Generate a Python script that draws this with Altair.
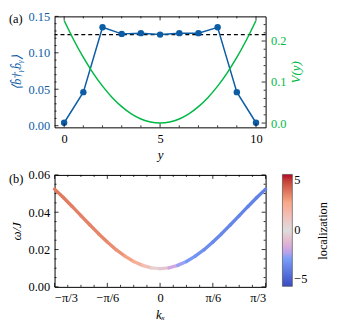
import altair as alt
import numpy as np
import pandas as pd

FONT = "Liberation Serif"
BLUE = "#0C5DA5"
GREEN = "#00B945"

# ---- panel (a) data ----
site_y = [0, 1, 2, 3, 4, 5, 6, 7, 8, 9, 10]
occupation = [0.004, 0.046, 0.135, 0.126, 0.127, 0.125, 0.127, 0.127, 0.135, 0.046, 0.004]
mean_occ = [0.125]
pot_y = [0, 0.5, 1, 1.5, 2, 2.5, 3, 3.5, 4, 4.5, 5, 5.5, 6, 6.5, 7, 7.5, 8, 8.5, 9, 9.5, 10]
pot_v = [0.25, 0.2025, 0.16, 0.1225, 0.09, 0.0625, 0.04, 0.0225, 0.01, 0.0025, 0.0,
         0.0025, 0.01, 0.0225, 0.04, 0.0625, 0.09, 0.1225, 0.16, 0.2025, 0.25]

# ---- panel (b) data ----
kx = [n * np.pi / 36 for n in range(-12, 13)]
omega = [0.0524, 0.0479, 0.0431, 0.0382, 0.0333, 0.0285, 0.0240, 0.0199, 0.0165, 0.0136,
         0.0115, 0.0102, 0.0098, 0.0102, 0.0115, 0.0136, 0.0165, 0.0199, 0.0240, 0.0285,
         0.0333, 0.0382, 0.0431, 0.0479, 0.0524]
localization = [3.4, 3.4, 3.3, 3.3, 3.2, 3.2, 3.1, 3.0, 2.8, 2.4, 1.8, 1.0, 0.0,
                -1.2, -2.0, -2.5, -2.8, -3.0, -3.1, -3.2, -3.2, -3.3, -3.3, -3.4, -3.4]

W, H1, H2 = 213, 112, 113
GAP = 47.5
MAJ, MIN = 4, 2

def xticks(vals, scale, axis, H, L):
    df = pd.DataFrame({"v": vals})
    base = alt.Chart(df).mark_rule(color="black", strokeWidth=0.8)
    b = base.encode(x=alt.X("v:Q", scale=scale, axis=axis), y=alt.value(H), y2=alt.value(H - L))
    t = base.encode(x=alt.X("v:Q", scale=scale, axis=axis), y=alt.value(0), y2=alt.value(L))
    return [b, t]

def yticks(vals, scale, axis, side, L):
    df = pd.DataFrame({"v": vals})
    base = alt.Chart(df).mark_rule(color="black", strokeWidth=0.8)
    if side == "left":
        return [base.encode(y=alt.Y("v:Q", scale=scale, axis=axis), x=alt.value(0), x2=alt.value(L))]
    return [base.encode(y=alt.Y("v:Q", scale=scale, axis=axis), x=alt.value(W), x2=alt.value(W - L))]

def label(txt, x, y, angle=0):
    return alt.Chart(pd.DataFrame({"t": [txt]})).mark_text(
        font=FONT, fontSize=12.5, align="left" if angle == 0 else "center",
        baseline="middle", color="black", angle=angle
    ).encode(text="t:N", x=alt.value(x), y=alt.value(y))

# ---------- panel (a) ----------
xs_a = alt.Scale(domain=[-0.5, 10.5], nice=False, zero=False)
ys_a = alt.Scale(domain=[-0.0023, 0.15], nice=False, zero=False)
vs_a = alt.Scale(domain=[-0.0105, 0.26], nice=False, zero=False)
xax_a = alt.Axis(values=[0, 5, 10], title="y", format="d", titlePadding=4)
yax_a = alt.Axis(values=[0, 0.05, 0.1, 0.15], format=".2f", title="⟨b̂†ᵧb̂ᵧ⟩",
                 titleColor=BLUE, labelColor=BLUE, titlePadding=4)
vax_a = alt.Axis(orient="right", values=[0, 0.1, 0.2], format=".1f", title="V(y)",
                 titleColor=GREEN, labelColor=GREEN, titleAngle=270, titleBaseline="top",
                 titlePadding=4)

occ_df = pd.DataFrame({"y": site_y, "occ": occupation})
blue_line = alt.Chart(occ_df).mark_line(color=BLUE, strokeWidth=1.5).encode(
    x=alt.X("y:Q", scale=xs_a, axis=xax_a), y=alt.Y("occ:Q", scale=ys_a, axis=yax_a))
blue_pts = alt.Chart(occ_df).mark_circle(color=BLUE, size=42, opacity=1).encode(
    x=alt.X("y:Q", scale=xs_a, axis=xax_a), y=alt.Y("occ:Q", scale=ys_a, axis=yax_a))
dash = alt.Chart(pd.DataFrame({"m": mean_occ})).mark_rule(
    color="black", strokeDash=[4, 3], strokeWidth=1.2).encode(
    y=alt.Y("m:Q", scale=ys_a, axis=yax_a))

minor_x_a = [v for v in range(0, 11) if v % 5 != 0]
minor_y_a = [0.01, 0.02, 0.03, 0.04, 0.06, 0.07, 0.08, 0.09, 0.11, 0.12, 0.13, 0.14]
blue_group = alt.layer(
    dash, blue_line, blue_pts,
    *xticks([0, 5, 10], xs_a, xax_a, H1, MAJ), *xticks(minor_x_a, xs_a, xax_a, H1, MIN),
    *yticks([0, 0.05, 0.1, 0.15], ys_a, yax_a, "left", MAJ),
    *yticks(minor_y_a, ys_a, yax_a, "left", MIN),
    label("(a)", -46, 3),
)

pot_df = pd.DataFrame({"y": pot_y, "V": pot_v})
green_line = alt.Chart(pot_df).mark_line(color=GREEN, strokeWidth=1.5, interpolate="monotone").encode(
    x=alt.X("y:Q", scale=xs_a, axis=xax_a), y=alt.Y("V:Q", scale=vs_a, axis=vax_a))
green_group = alt.layer(
    green_line,
    *yticks([0, 0.1, 0.2], vs_a, vax_a, "right", MAJ),
    *yticks([0.02, 0.04, 0.06, 0.08, 0.12, 0.14, 0.16, 0.18, 0.22, 0.24], vs_a, vax_a, "right", MIN),
)

top = alt.layer(blue_group, green_group).resolve_scale(y="independent").properties(width=W, height=H1)

# ---------- panel (b) ----------
P3 = np.pi / 3
xs_b = alt.Scale(domain=[-P3, P3], nice=False, zero=False)
ys_b = alt.Scale(domain=[0, 0.06], nice=False, zero=False)
cs = alt.Scale(domain=[-5, -2.5, 0, 2.5, 5],
               range=["#3b4cc0", "#7b9ff9", "#dddcdc", "#f7a889", "#b40426"])

seg = pd.DataFrame({"k": kx, "w": omega, "loc": localization})
seg["k2"] = seg["k"].shift(-1)
seg["w2"] = seg["w"].shift(-1)
seg["locm"] = (seg["loc"] + seg["loc"].shift(-1)) / 2
seg = seg.dropna()

kvals = [-P3, -P3 / 2, 0, P3 / 2, P3]
klab = ("abs(datum.value) < 0.01 ? '0' : (datum.value < 0 ? '\u2212' : '') + 'π/' + "
        "(abs(datum.value) > 0.8 ? '3' : '6')")
xax_b = alt.Axis(values=kvals, labelExpr=klab, title="kₓ", titlePadding=4)
yax_b = alt.Axis(values=[0, 0.02, 0.04, 0.06], format=".2f", title="ω/J", titlePadding=4)

curve = alt.Chart(seg).mark_rule(strokeWidth=3.4, strokeCap="round").encode(
    x=alt.X("k:Q", scale=xs_b, axis=xax_b),
    x2="k2:Q",
    y=alt.Y("w:Q", scale=ys_b, axis=yax_b),
    y2="w2:Q",
    color=alt.Color("locm:Q", scale=cs, legend=alt.Legend(
        title=None, orient="none", legendX=W + 17, legendY=H1 + GAP, direction="vertical",
        gradientLength=H2, gradientThickness=10, values=[-5, 0, 5],
        labelExpr="replace(datum.label, '-', '\u2212')",
        gradientStrokeColor="#444", gradientStrokeWidth=0.6)),
)
minor_k = [n * np.pi / 24 for n in range(-8, 9) if n % 4 != 0]
minor_w = [0.005, 0.01, 0.015, 0.025, 0.03, 0.035, 0.045, 0.05, 0.055]
bottom = alt.layer(
    curve,
    *xticks(kvals, xs_b, xax_b, H2, MAJ), *xticks(minor_k, xs_b, xax_b, H2, MIN),
    *yticks([0, 0.02, 0.04, 0.06], ys_b, yax_b, "left", MAJ),
    *yticks(minor_w, ys_b, yax_b, "left", MIN),
    *yticks([0, 0.02, 0.04, 0.06], ys_b, yax_b, "right", MAJ),
    *yticks(minor_w, ys_b, yax_b, "right", MIN),
    label("(b)", -46, 4),
    label("localization", W + 58, H2 / 2, angle=270),
).properties(width=W, height=H2)

chart = alt.vconcat(top, bottom, spacing=6).properties(padding=0).configure_view(
    stroke="black", strokeWidth=1
).configure_axis(
    labelFont=FONT, titleFont=FONT, labelFontSize=12.5, titleFontSize=13,
    ticks=False, domain=False, grid=False, labelPadding=5,
    titleFontWeight="normal", titleFontStyle="italic", labelColor="black", titleColor="black",
).configure_legend(
    labelFont=FONT, titleFont=FONT, labelFontSize=12.5, titleFontSize=12.5,
    titleFontWeight="normal", labelColor="black", titleColor="black",
)

chart.save("out.html", embed_options={"renderer": "svg", "actions": False})
